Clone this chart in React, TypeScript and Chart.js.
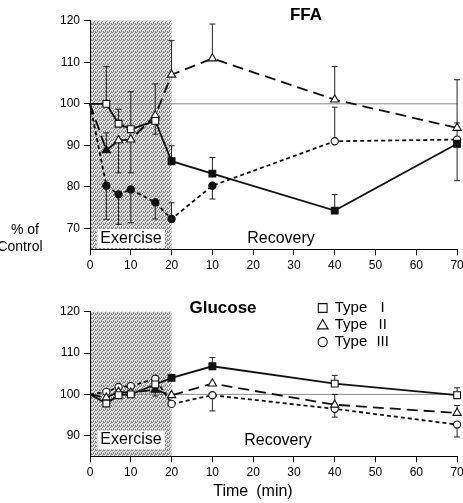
import React, { useEffect, useRef } from 'react';
import { Chart, registerables } from 'chart.js';

Chart.register(...registerables);

// ---------------- data ----------------
const exerciseMinutes = [0, 4, 7, 10, 16, 20];
const recoveryMinutes = [10, 40, 70];
const exerciseLength = 20;
const seriesNames = ['Type I', 'Type II', 'Type III'];
const legendNumerals = ['I', 'II', 'III'];

const xTickValues = [0, 10, 20, 30, 40, 50, 60, 70, 80, 90];
const xTickLabels = ['0', '10', '20', '10', '20', '30', '40', '50', '60', '70'];
const ffaYTicks = [70, 80, 90, 100, 110, 120];
const glucoseYTicks = [90, 100, 110, 120];

// FFA (% of control)
const ffaTypeI = [100, 100, 95.2, 93.9, 95.9, 86.2, 83.2, 74.3, 90.4];
const ffaTypeII = [100, 88.8, 91.2, 91.4, 97.2, 107, 110.9, 101, 94.2];
const ffaTypeIII = [100, 80.3, 78.2, 79.4, 76.3, 72.3, 80.3, 91, 91.4];
// signed error bars (+ up, - down)
const ffaTypeIErr = [0, 9, 3.5, 9, 8.9, 3.7, 3.9, 3.9, -8.9];
const ffaTypeIIErr = [0, 4.2, -7.8, -8, -4.5, 8.2, 8.3, 8, 11.6];
const ffaTypeIIIErr = [0, -8.1, -7.2, -8, -4, 3.9, -3.2, 8.2, 4];
const ffaTypeIFilled = [0, 0, 0, 0, 0, 1, 1, 1, 1];
const ffaTypeIIFilled = [0, 1, 0, 0, 0, 0, 0, 0, 0];
const ffaTypeIIIFilled = [1, 1, 1, 1, 1, 1, 1, 0, 0];

// Glucose (% of control)
const gluTypeI = [100, 97.8, 99.8, 100, 102.4, 104, 106.8, 102.6, 99.8];
const gluTypeII = [100, 99.2, 100.6, 100.4, 101.1, 99.8, 102.6, 97.5, 95.5];
const gluTypeIII = [100, 100.6, 101.8, 102, 103.8, 97.7, 99.8, 96.5, 92.7];
const gluTypeIErr = [0, 0, 0, 0, 0, 0, 2.1, 2, 1.8];
const gluTypeIIErr = [0, 0, 0, 0, -1.5, 0, 0, 2.5, 1.8];
const gluTypeIIIErr = [0, 0, 0, 0, 0, 0, -3.8, -2, -3];
const gluTypeIFilled = [0, 0, 0, 0, 0, 1, 1, 0, 0];
const gluTypeIIFilled = [0, 0, 0, 0, 1, 0, 0, 0, 0];
const gluTypeIIIFilled = [0, 0, 0, 0, 0, 0, 0, 0, 0];

// ---------------- styles ----------------
const positions = [...exerciseMinutes, ...recoveryMinutes.map((m) => m + exerciseLength)];
const FONT = '"Liberation Sans", Arial, Helvetica, sans-serif';
const INK = '#111';
const pointStyles = ['rect', 'triangle', 'circle'];
const dashes: number[][] = [[], [11, 6], [4, 3]];
const radii = [4.8, 4.8, 3.6];

type TextItem = { text: string; x: number; y: number; font: string; align?: CanvasTextAlign; box?: boolean };

type Panel = {
  series: number[][];
  errors: number[][];
  filled: number[][];
  yMin: number;
  yMax: number;
  yTicks: number[];
  padTop: number;
  xAxisHeight: number;
  texts: TextItem[];
  legend?: { x: number; y: number; dy: number };
};

const ffaPanel: Panel = {
  series: [ffaTypeI, ffaTypeII, ffaTypeIII],
  errors: [ffaTypeIErr, ffaTypeIIErr, ffaTypeIIIErr],
  filled: [ffaTypeIFilled, ffaTypeIIFilled, ffaTypeIIIFilled],
  yMin: 65,
  yMax: 120,
  yTicks: ffaYTicks,
  padTop: 20.7,
  xAxisHeight: 32.7,
  texts: [
    { text: 'FFA', x: 306, y: 15, font: `bold 17px ${FONT}` },
    { text: '% of', x: 25, y: 230, font: `14px ${FONT}` },
    { text: 'Control', x: 20, y: 247, font: `14px ${FONT}` },
    { text: 'Exercise', x: 131, y: 238.5, font: `16px ${FONT}`, box: true },
    { text: 'Recovery', x: 281, y: 238.5, font: `16px ${FONT}` },
  ],
};

const glucosePanel: Panel = {
  series: [gluTypeI, gluTypeII, gluTypeIII],
  errors: [gluTypeIErr, gluTypeIIErr, gluTypeIIIErr],
  filled: [gluTypeIFilled, gluTypeIIFilled, gluTypeIIIFilled],
  yMin: 85,
  yMax: 120,
  yTicks: glucoseYTicks,
  padTop: 29.7,
  xAxisHeight: 46.6,
  texts: [
    { text: 'Glucose', x: 223, y: 26, font: `bold 17px ${FONT}` },
    { text: 'Exercise', x: 131, y: 158, font: `16px ${FONT}`, box: true },
    { text: 'Recovery', x: 278, y: 159, font: `16px ${FONT}` },
    { text: 'Time\u2002(min)', x: 253, y: 210, font: `16px ${FONT}` },
  ],
  legend: { x: 322.7, y: 26, dy: 17 },
};

let cachedPattern: CanvasPattern | null = null;
function getPattern(ctx: CanvasRenderingContext2D) {
  if (cachedPattern) return cachedPattern;
  const c = document.createElement('canvas');
  c.width = 4;
  c.height = 4;
  const g = c.getContext('2d')!;
  g.fillStyle = '#e2e2e2';
  g.fillRect(0, 0, 4, 4);
  g.fillStyle = '#7c7c7c';
  [[0, 0], [2, 1], [1, 2], [3, 3], [3, 0], [1, 3]].forEach(([px, py]) => g.fillRect(px, py, 1, 1));
  cachedPattern = ctx.createPattern(c, 'repeat');
  return cachedPattern!;
}

function drawMarker(ctx: CanvasRenderingContext2D, style: string, x: number, y: number, r: number) {
  ctx.beginPath();
  if (style === 'rect') {
    const s = r * Math.SQRT1_2;
    ctx.rect(x - s, y - s, 2 * s, 2 * s);
  } else if (style === 'triangle') {
    ctx.moveTo(x, y - r);
    ctx.lineTo(x + r * 0.866, y + r * 0.5);
    ctx.lineTo(x - r * 0.866, y + r * 0.5);
    ctx.closePath();
  } else {
    ctx.arc(x, y, r, 0, Math.PI * 2);
  }
  ctx.fillStyle = '#fff';
  ctx.fill();
  ctx.strokeStyle = INK;
  ctx.lineWidth = 1.1;
  ctx.stroke();
}

function makeChart(canvas: HTMLCanvasElement, panel: Panel) {
  const datasets = panel.series.map((vals, s) => ({
    label: seriesNames[s],
    data: vals.map((v, i) => ({ x: positions[i], y: v })),
    borderColor: INK,
    borderWidth: 1.8,
    borderDash: dashes[s],
    pointStyle: pointStyles[s],
    pointRadius: vals.map((_, i) => (i === 0 ? 0 : radii[s])),
    pointBorderWidth: 1.1,
    pointBorderColor: INK,
    pointBackgroundColor: panel.filled[s].map((f) => (f ? INK : '#fff')),
    tension: 0,
    clip: false as any,
  }));

  const plugin = {
    id: 'panelDecor',
    beforeDraw(chart: any) {
      const { ctx, chartArea: a, scales } = chart;
      const x0 = scales.x.getPixelForValue(0);
      const x1 = scales.x.getPixelForValue(exerciseLength);
      ctx.save();
      ctx.fillStyle = getPattern(ctx);
      ctx.fillRect(x0, a.top, x1 - x0, a.bottom - a.top);
      ctx.restore();
    },
    beforeDatasetsDraw(chart: any) {
      const { ctx, chartArea: a, scales } = chart;
      const x = scales.x;
      const y = scales.y;
      ctx.save();
      const y100 = y.getPixelForValue(100);
      ctx.strokeStyle = '#8a8a8a';
      ctx.lineWidth = 1;
      ctx.beginPath();
      ctx.moveTo(a.left, y100);
      ctx.lineTo(a.right, y100);
      ctx.stroke();
      ctx.strokeStyle = '#222';
      ctx.lineWidth = 1;
      panel.errors.forEach((errs, s) =>
        errs.forEach((e, i) => {
          if (!e) return;
          const v = panel.series[s][i];
          const px = x.getPixelForValue(positions[i]);
          const p0 = y.getPixelForValue(v);
          const p1 = y.getPixelForValue(v + e);
          ctx.beginPath();
          ctx.moveTo(px, p0);
          ctx.lineTo(px, p1);
          ctx.moveTo(px - 3, p1);
          ctx.lineTo(px + 3, p1);
          ctx.stroke();
        })
      );
      ctx.restore();
    },
    afterDraw(chart: any) {
      const { ctx } = chart;
      ctx.save();
      ctx.textBaseline = 'middle';
      panel.texts.forEach((t) => {
        ctx.font = t.font;
        ctx.textAlign = t.align || 'center';
        if (t.box) {
          const w = ctx.measureText(t.text).width + 6;
          ctx.fillStyle = '#fff';
          ctx.fillRect(t.x - w / 2, t.y - 9.5, w, 19);
        }
        ctx.fillStyle = '#000';
        ctx.fillText(t.text, t.x, t.y);
      });
      if (panel.legend) {
        const L = panel.legend;
        seriesNames.forEach((name, s) => {
          const yy = L.y + s * L.dy;
          drawMarker(ctx, pointStyles[s], L.x, yy + (s === 1 ? 0.8 : 0), s === 2 ? 4.6 : 6.2);
          ctx.fillStyle = '#000';
          ctx.font = `15px ${FONT}`;
          ctx.textAlign = 'left';
          ctx.fillText(name.split(' ')[0], L.x + 12, yy);
          ctx.textAlign = 'center';
          ctx.fillText(legendNumerals[s], L.x + 60, yy);
        });
      }
      ctx.restore();
    },
  };

  return new Chart(canvas, {
    type: 'line',
    data: { datasets: datasets as any },
    options: {
      animation: false,
      responsive: false,
      devicePixelRatio: 1,
      layout: { padding: { top: panel.padTop, right: 4.5, left: 0, bottom: 0 } },
      plugins: { legend: { display: false }, tooltip: { enabled: false }, title: { display: false } },
      scales: {
        x: {
          type: 'linear',
          min: 0,
          max: 90,
          afterBuildTicks: (s: any) => {
            s.ticks = xTickValues.map((v) => ({ value: v }));
          },
          afterFit: (s: any) => {
            s.height = panel.xAxisHeight;
            s.paddingLeft = 0;
            s.paddingRight = 0;
          },
          ticks: {
            autoSkip: false,
            maxRotation: 0,
            color: '#000',
            padding: 3,
            font: { family: FONT, size: 12 },
            callback: (v: any) => xTickLabels[xTickValues.indexOf(Number(v))] ?? '',
          },
          grid: { display: true, drawOnChartArea: false, drawTicks: true, tickLength: 6, color: '#000', lineWidth: 1 },
          border: { display: true, color: '#000', width: 1 },
        },
        y: {
          type: 'linear',
          min: panel.yMin,
          max: panel.yMax,
          afterBuildTicks: (s: any) => {
            s.ticks = panel.yTicks.map((v) => ({ value: v }));
          },
          afterFit: (s: any) => {
            s.width = 90;
            s.paddingTop = 0;
            s.paddingBottom = 0;
          },
          ticks: {
            color: '#000',
            padding: 4,
            font: { family: FONT, size: 12 },
            callback: (v: any) => String(v),
          },
          grid: { display: true, drawOnChartArea: false, drawTicks: true, tickLength: 6, color: '#000', lineWidth: 1 },
          border: { display: true, color: '#000', width: 1 },
        },
      },
    } as any,
    plugins: [plugin],
  });
}

export default function App() {
  const topRef = useRef<HTMLCanvasElement>(null);
  const bottomRef = useRef<HTMLCanvasElement>(null);

  useEffect(() => {
    const top = makeChart(topRef.current!, ffaPanel);
    const bottom = makeChart(bottomRef.current!, glucosePanel);
    return () => {
      top.destroy();
      bottom.destroy();
    };
  }, []);

  return (
    <div style={{ position: 'absolute', left: 0, top: 0, width: 463, height: 503, background: '#fff', overflow: 'hidden' }}>
      <canvas ref={topRef} width={463} height={282} style={{ position: 'absolute', left: 0, top: 0 }} />
      <canvas ref={bottomRef} width={463} height={221} style={{ position: 'absolute', left: 0, top: 282 }} />
    </div>
  );
}
